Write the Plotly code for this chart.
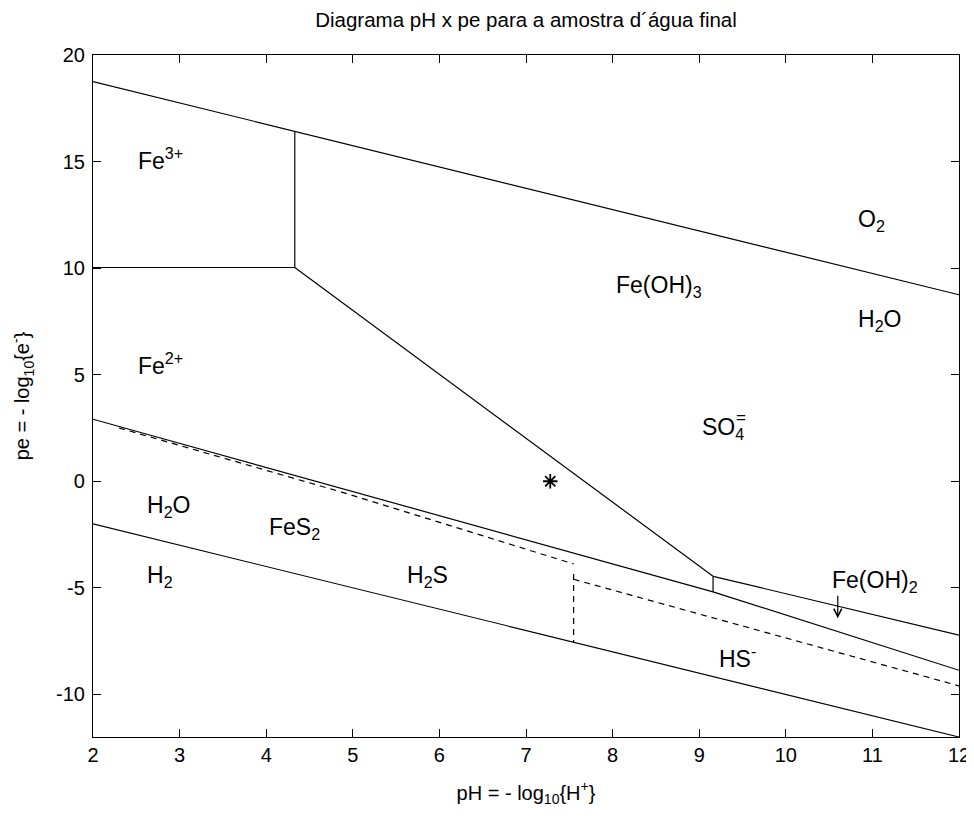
import plotly.graph_objects as go

# ---- data (pH, pe) ----
o2_h2o_ph = [2, 12]
o2_h2o_pe = [18.75, 8.75]

h2o_h2_ph = [2, 12]
h2o_h2_pe = [-2, -12]

fe3_fe2_ph = [2, 4.33]
fe3_fe2_pe = [10.03, 10.03]

fe3_feoh3_ph = [4.33, 4.33]
fe3_feoh3_pe = [10.03, 16.42]

fe2_feoh3_ph = [4.33, 9.16]
fe2_feoh3_pe = [10.03, -4.46]

feoh3_feoh2_ph = [9.16, 12]
feoh3_feoh2_pe = [-4.46, -7.22]

fe2_feoh2_ph = [9.16, 9.16]
fe2_feoh2_pe = [-4.46, -5.19]

fes2_ph = [2, 9.16, 12]
fes2_pe = [2.91, -5.19, -8.87]

h2s_ph = [2.3, 4.89, 7.55]
h2s_pe = [2.5, -0.53, -3.88]

h2s_hs_ph = [7.55, 7.55]
h2s_hs_pe = [-4.35, -7.55]

hs_ph = [7.55, 12]
hs_pe = [-4.6, -9.6]

sample_ph = [7.28]
sample_pe = [0]

x_ticks = [2, 3, 4, 5, 6, 7, 8, 9, 10, 11, 12]
x_tick_labels = ["2", "3", "4", "5", "6", "7", "8", "9", "10", "11", "12"]
y_ticks = [-10, -5, 0, 5, 10, 15, 20]
y_tick_labels = ["-10", "-5", "0", "5", "10", "15", "20"]

# labels: (text, pH, pe)
labels = [
    ("Fe<sup>3+</sup>", 2.5, 15.0),
    ("Fe<sup>2+</sup>", 2.5, 5.35),
    ("O<sub>2</sub>", 10.81, 12.24),
    ("H<sub>2</sub>O", 10.81, 7.55),
    ("Fe(OH)<sub>3</sub>", 8.02, 9.15),
    ("SO<sub>4</sub>", 9.01, 2.46),
    ("H<sub>2</sub>O", 2.6, -1.17),
    ("FeS<sub>2</sub>", 4.01, -2.2),
    ("H<sub>2</sub>", 2.6, -4.46),
    ("H<sub>2</sub>S", 5.6, -4.46),
    ("Fe(OH)<sub>2</sub>", 10.51, -4.72),
    ("HS<sup>-</sup>", 9.21, -8.4),
]

FONT = "Liberation Sans, Arial, sans-serif"
FS = 20
LFS = 23

fig = go.Figure()

solid = dict(color="black", width=1.2)
dashed = dict(color="black", width=1.2, dash="6px,5px")

for xs, ys in [(o2_h2o_ph, o2_h2o_pe), (h2o_h2_ph, h2o_h2_pe),
               (fe3_fe2_ph, fe3_fe2_pe), (fe3_feoh3_ph, fe3_feoh3_pe),
               (fe2_feoh3_ph, fe2_feoh3_pe), (feoh3_feoh2_ph, feoh3_feoh2_pe),
               (fe2_feoh2_ph, fe2_feoh2_pe), (fes2_ph, fes2_pe)]:
    fig.add_trace(go.Scatter(x=xs, y=ys, mode="lines", line=solid,
                             showlegend=False, hoverinfo="skip"))

for xs, ys in [(h2s_ph, h2s_pe), (h2s_hs_ph, h2s_hs_pe), (hs_ph, hs_pe)]:
    fig.add_trace(go.Scatter(x=xs, y=ys, mode="lines", line=dashed,
                             showlegend=False, hoverinfo="skip"))

fig.add_trace(go.Scatter(x=sample_ph, y=sample_pe, mode="markers",
                         marker=dict(symbol="asterisk-open", size=12,
                                     color="black",
                                     line=dict(color="black", width=1.8)),
                         showlegend=False))

for txt, px, py in labels:
    shift = 3 if "<sup>" in txt else 0
    fig.add_annotation(x=px, y=py, text=txt, showarrow=False,
                       xanchor="left", yanchor="middle", yshift=shift,
                       font=dict(family=FONT, size=LFS, color="black"))

# stacked "=" above the subscript 4 of SO4
fig.add_annotation(x=9.01, y=2.46, text="=", showarrow=False,
                   xanchor="left", yanchor="middle", xshift=34, yshift=11,
                   font=dict(family=FONT, size=17, color="black"))

# arrow pointing into the Fe(OH)2 field
fig.add_annotation(x=10.6, y=-6.43, ax=10.6, ay=-5.3, axref="x", ayref="y",
                   xref="x", yref="y", text="", showarrow=True,
                   arrowhead=5, arrowsize=1.3, arrowwidth=1.2, arrowcolor="black")

axis_common = dict(showline=True, linecolor="black", linewidth=1.2,
                   mirror="ticks", ticks="inside", ticklen=8, tickwidth=1,
                   tickcolor="black", showgrid=False, zeroline=False,
                   automargin=False,
                   tickfont=dict(family=FONT, size=FS, color="black"))

fig.update_xaxes(range=[2, 12], tickvals=x_ticks, ticktext=x_tick_labels,
                 title=dict(text="pH = - log<sub>10</sub>{H<sup>+</sup>}",
                            font=dict(family=FONT, size=FS, color="black"),
                            standoff=20),
                 **axis_common)
fig.update_yaxes(range=[-12, 20], tickvals=y_ticks, ticktext=y_tick_labels,
                 ticklabelstandoff=3,
                 title=dict(text="pe = - log<sub>10</sub>{e<sup>-</sup>}",
                            font=dict(family=FONT, size=FS, color="black"),
                            standoff=25),
                 **axis_common)

# the page body has an 8px margin, so the figure is sized/offset to compensate
fig.update_layout(
    width=966, height=815,
    margin=dict(l=85, r=15, t=47, b=86, autoexpand=False),
    paper_bgcolor="white", plot_bgcolor="white",
    title=dict(text="Diagrama pH x pe para a amostra d´água final",
               x=0.5, xref="paper", y=1 - 12 / 815, yref="container",
               xanchor="center", yanchor="middle", automargin=False,
               font=dict(family=FONT, size=20.5, color="black")),
)

fig.write_html("out.html")
